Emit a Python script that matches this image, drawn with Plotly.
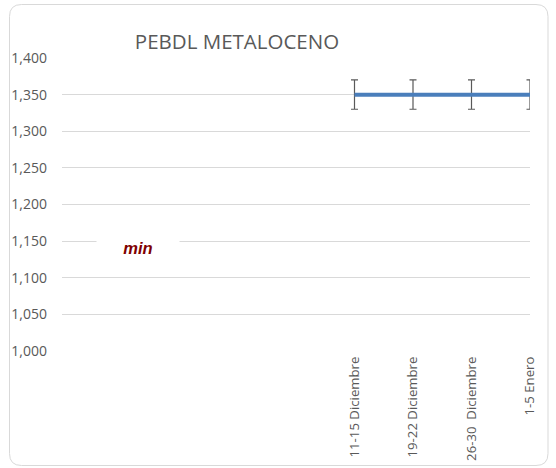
import plotly.graph_objects as go

categories = ["", "", "", "", "", "11-15 Diciembre", "19-22 Diciembre", "26-30  Diciembre", "1-5 Enero"]
prices = [None, None, None, None, None, 1350, 1350, 1350, 1350]
err = [None, None, None, None, None, 20, 20, 20, 20]
y_ticks = [1000, 1050, 1100, 1150, 1200, 1250, 1300, 1350, 1400]

W, H = 556, 468
L, R, T, B = 62, 26, 58, 117
pw, ph = W - L - R, H - T - B

def px(x):
    return (x - L) / pw

def py(y):
    return (H - B - y) / ph

idx = list(range(len(categories)))

fig = go.Figure()
fig.add_trace(go.Scatter(
    x=idx, y=prices, mode="lines",
    line=dict(color="#4A7EBB", width=4),
    error_y=dict(type="data", array=err, visible=True, color="#595959", thickness=1.2, width=3.5),
    hoverinfo="skip", showlegend=False,
))

# rounded chart border
x0, x1, y0, y1 = 9.5, 548, 4.5, 465.5
r = 12
rx, ry = r / pw, r / ph
X0, X1, Y0, Y1 = px(x0), px(x1), py(y1), py(y0)
path = (f"M {X0+rx},{Y1} L {X1-rx},{Y1} Q {X1},{Y1} {X1},{Y1-ry} "
        f"L {X1},{Y0+ry} Q {X1},{Y0} {X1-rx},{Y0} L {X0+rx},{Y0} "
        f"Q {X0},{Y0} {X0},{Y0+ry} L {X0},{Y1-ry} Q {X0},{Y1} {X0+rx},{Y1} Z")

fig.update_layout(
    width=W, height=H,
    margin=dict(l=L, r=R, t=T, b=B, autoexpand=False),
    paper_bgcolor="white", plot_bgcolor="white",
    font=dict(family="Open Sans, Liberation Sans, sans-serif", color="#595959"),
    title=dict(text="PEBDL METALOCENO", xref="container", x=237 / W, xanchor="center",
               yref="container", y=1 - 42 / H, yanchor="middle",
               font=dict(size=20.5, color="#595959")),
    shapes=[dict(type="path", path=path, xref="paper", yref="paper",
                 line=dict(color="#D9D9D9", width=1), layer="below")],
    annotations=[dict(text="<b><i>min</i></b>", x=px(138), y=py(248), xref="paper", yref="paper",
                      xanchor="center", yanchor="middle", showarrow=False,
                      bgcolor="white", width=80, height=30,
                      font=dict(size=16.5, color="#7F0000", family="Liberation Sans, Arial, sans-serif"))],
    xaxis=dict(range=[0, len(categories) - 1], tickvals=idx, ticktext=categories,
               tickangle=-90, showgrid=False, zeroline=False, showline=False, automargin=False,
               ticks="", ticklabelstandoff=2, tickfont=dict(size=13.2, color="#595959")),
    yaxis=dict(range=[1000, 1400], tickvals=y_ticks, tickformat=",d", automargin=False,
               showgrid=True, gridcolor="#D9D9D9", gridwidth=1, zeroline=False,
               showline=False, ticks="", ticklabelstandoff=14,
               tickfont=dict(size=14, color="#595959")),
)
fig.write_html("out.html", config={"displayModeBar": False},
               post_script="document.body.style.margin='0';")
